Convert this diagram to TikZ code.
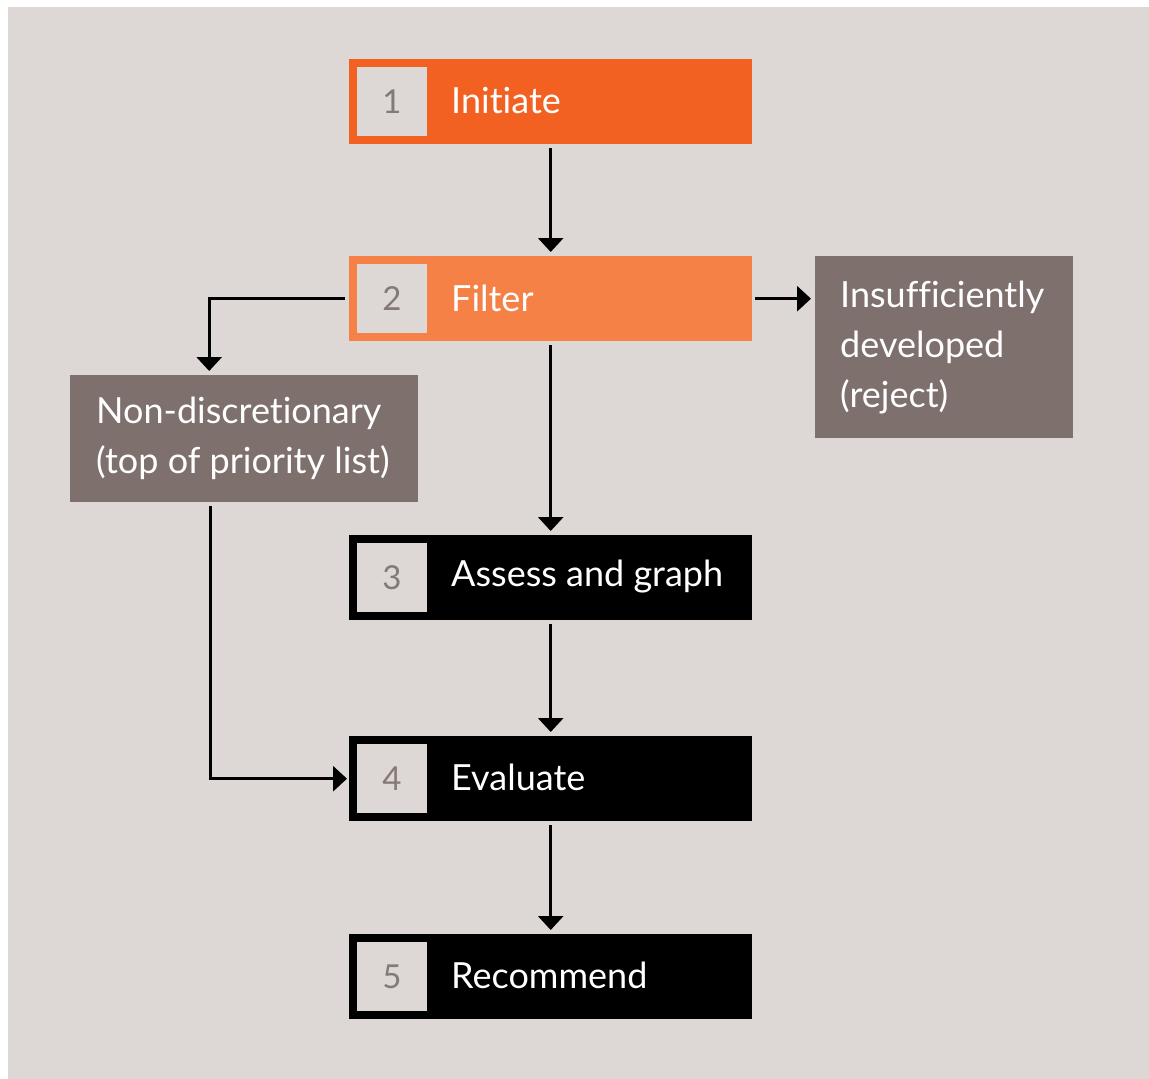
\documentclass[tikz,border=0pt]{standalone}
\usepackage{fontspec}
\setmainfont{Lato}[Ligatures=NoCommon]
\usetikzlibrary{arrows.meta}
\definecolor{bgc}{HTML}{DDD8D5}
\definecolor{orA}{HTML}{F26122}
\definecolor{orB}{HTML}{F58146}
\definecolor{gbox}{HTML}{7E706C}
\definecolor{numc}{HTML}{857975}
\tikzset{
  stepbox/.style={draw=none, minimum width=403pt, minimum height=85pt, anchor=north west, inner sep=0pt},
  numbox/.style={fill=bgc, minimum width=70pt, minimum height=69pt, inner sep=0pt, text=numc, font=\fontsize{33}{36}\selectfont},
  lbl/.style={anchor=west, text=white, inner sep=0pt, font=\fontsize{36}{40}\selectfont},
  side/.style={fill=gbox, anchor=north west, inner sep=0pt, text=white},
  sidetxt/.style={anchor=north west, text=white, inner sep=0pt, align=left, font=\fontsize{36}{50}\selectfont},
  arr/.style={line width=3pt, -{Triangle[width=25pt,length=14pt]}}
}
\begin{document}
\begin{tikzpicture}[x=1pt,y=-1pt]
\useasboundingbox (0,0) rectangle (1149,1079);
\fill[bgc] (8,7) rectangle (1149,1079);
% step boxes
\node[stepbox, fill=orA] (b1) at (349,59) {};
\node[stepbox, fill=orB] (b2) at (349,256) {};
\node[stepbox, fill=black] (b3) at (349,535) {};
\node[stepbox, fill=black] (b4) at (349,736) {};
\node[stepbox, fill=black] (b5) at (349,934) {};
% number squares
\node[numbox] (n1) at (392,101.5) {1};
\node[numbox] (n2) at (392,298.5) {2};
\node[numbox] (n3) at (392,577.5) {3};
\node[numbox] (n4) at (392,778.5) {4};
\node[numbox] (n5) at (392,976.5) {5};
% labels
\node[lbl] (t1) at (451,101) {Initiate};
\node[lbl] (t2) at (451,298) {Filter};
\node[lbl] (t3) at (451,577) {Assess and graph};
\node[lbl] (t4) at (451,777) {Evaluate};
\node[lbl] (t5) at (451,975) {Recommend};
% side boxes
\node[side, minimum width=348pt, minimum height=127pt] (nd) at (70,375) {};
\node[sidetxt] (ndt) at (96,397) {Non-discretionary\\(top of priority list)};
\node[side, minimum width=258pt, minimum height=182pt] (ins) at (815,256) {};
\node[sidetxt] (inst) at (840,281) {Insufficiently\\developed\\(reject)};
% connectors
\draw[arr] ([yshift=-4pt]b1.south) -- ([yshift=4pt]b1.south |- b2.north);
\draw[arr] ([yshift=-4pt]b2.south) -- ([yshift=4pt]b2.south |- b3.north);
\draw[arr] ([yshift=-4pt]b3.south) -- ([yshift=4pt]b3.south |- b4.north);
\draw[arr] ([yshift=-4pt]b4.south) -- ([yshift=4pt]b4.south |- b5.north);
\draw[arr] ([xshift=3pt]b2.east) -- ([xshift=-4pt]ins.west |- b2.east);
\draw[arr] ([xshift=-4pt]b2.west) -| ([xshift=-35pt,yshift=4pt]nd.north);
\draw[arr] ([xshift=-34pt,yshift=-4pt]nd.south) |- ([xshift=-2pt]b4.west);
\end{tikzpicture}
\end{document}
